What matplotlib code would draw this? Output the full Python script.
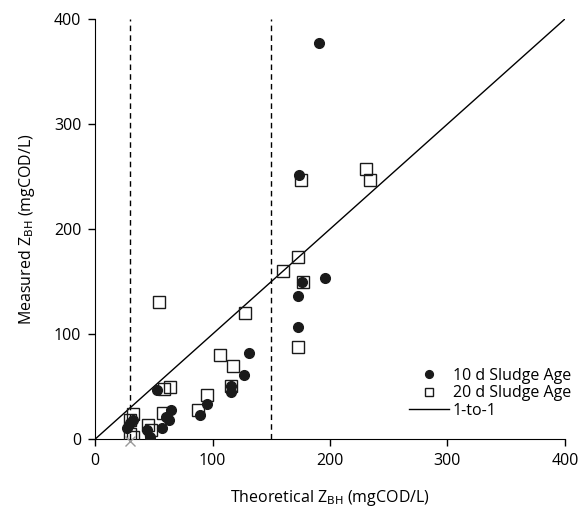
import matplotlib
matplotlib.use('Agg')
import matplotlib.pyplot as plt
import numpy as np

plt.rcParams['font.family'] = ['Open Sans', 'DejaVu Sans']
plt.rcParams['font.size'] = 11.5

# 10 d sludge age (filled circles)
x10 = [191, 174, 196, 176, 173, 173, 131, 127, 116, 116, 95, 89, 65, 60, 63, 57,
       53, 44, 47, 27, 30, 32]
y10 = [377, 251, 153, 150, 136, 107, 82, 61, 51, 45, 33, 23, 28, 21, 18, 11,
       47, 9, 2, 11, 15, 18]

# 20 d sludge age (open squares)
x20 = [231, 234, 175, 173, 160, 177, 128, 173, 54, 106, 117, 116, 95, 88, 64, 59,
       58, 45, 48, 32, 30, 32, 30]
y20 = [257, 247, 247, 173, 160, 150, 120, 88, 131, 80, 70, 51, 42, 28, 50, 48,
       25, 13, 9, 24, 18, 2, 5]

one_to_one = [0, 400]
limits = [30, 150]

fig = plt.figure(figsize=(5.8, 5.13), dpi=100)
ax = fig.add_axes([0.164, 0.144, 0.81, 0.819])

for v in limits:
    ax.axvline(v, color='black', linestyle=(0, (4, 3)), linewidth=1)

ax.plot(x10, y10, 'o', color='#1a1a1a', markersize=7, label='10 d Sludge Age', zorder=3)
ax.plot(x20, y20, 's', markerfacecolor='none', markeredgecolor='#1a1a1a', markersize=8,
        markeredgewidth=1, label='20 d Sludge Age', zorder=3)
ax.plot(one_to_one, one_to_one, color='black', linewidth=1, label='1-to-1')
ax.plot([30], [-2], 'x', color='#999999', markersize=7, clip_on=False, zorder=4)

ax.set_xlim(0, 400)
ax.set_ylim(0, 400)
ax.set_xticks([0, 100, 200, 300, 400])
ax.set_yticks([0, 100, 200, 300, 400])
ax.spines['top'].set_visible(False)
ax.spines['right'].set_visible(False)
ax.tick_params(direction='out', length=5, width=1, pad=5)

ax.set_xlabel(r'Theoretical Z$_{\mathrm{BH}}$ (mgCOD/L)', labelpad=14)
ax.set_ylabel(r'Measured Z$_{\mathrm{BH}}$ (mgCOD/L)', labelpad=12)

ax.legend(loc='lower right', bbox_to_anchor=(571 / 580, (513 - 419) / 513),
          bbox_transform=fig.transFigure, frameon=False, borderpad=0, borderaxespad=0,
          handlelength=2.5, handletextpad=0.25, labelspacing=0.1, markerscale=0.8)

fig.savefig('out.png', dpi=100)
